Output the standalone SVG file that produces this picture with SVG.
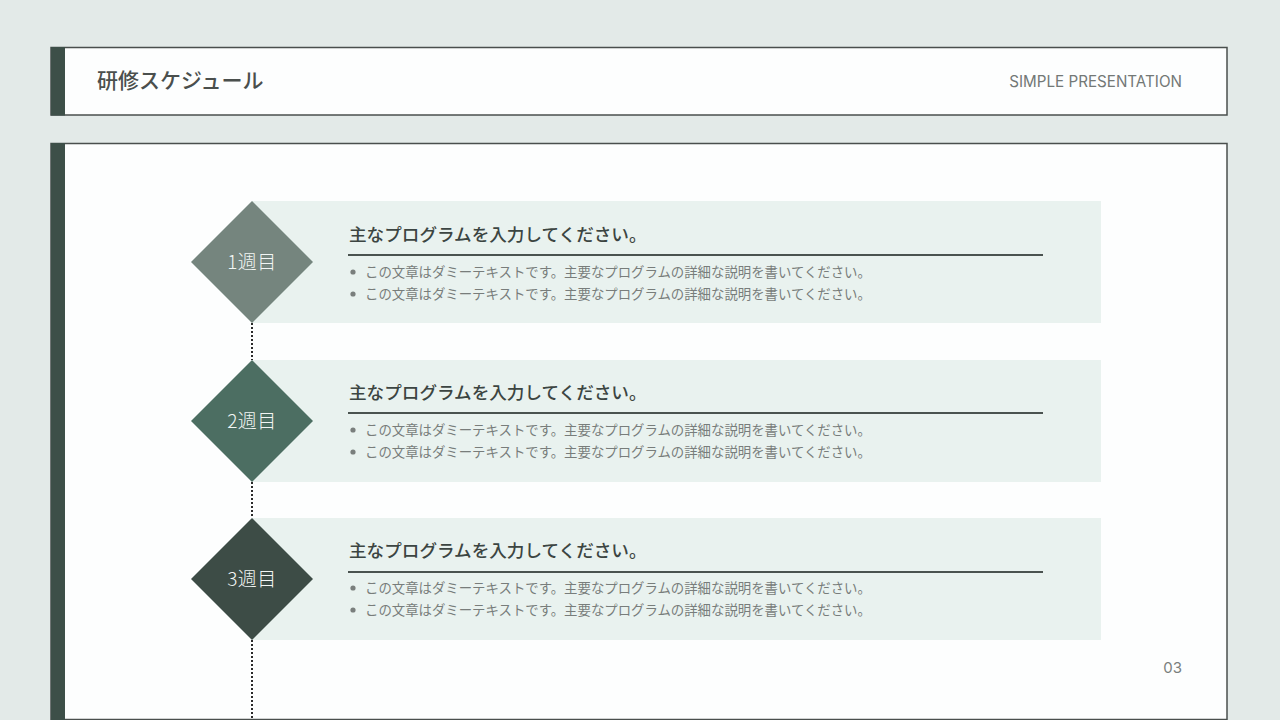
<svg xmlns="http://www.w3.org/2000/svg" width="1280" height="720" viewBox="0 0 1280 720">
<style>
.jp{font-family:"Noto Sans CJK JP","Noto Sans",sans-serif}
.lat{font-family:Inter,"Noto Sans",sans-serif}
.band{fill:#e9f2ef}
.head{font-size:17.6px;font-weight:500;fill:#3c4542}
.rule{stroke:#4a5350;stroke-width:2}
.dot{fill:#7a7f7d}
.body{font-size:13.4px;fill:#787d7b}
.lbl{font-size:19px;font-weight:300;fill:#f2f6f4;text-anchor:middle;letter-spacing:0.5px}
.conn{stroke:#2a2a2a;stroke-width:2;stroke-dasharray:2 2;fill:none}
</style>
<rect width="1280" height="720" fill="#e3eae8"/>
<g id="header">
<rect x="51" y="47.5" width="1176" height="67.5" fill="#fdfefe" stroke="#4a4f4d" stroke-width="1.5"/>
<rect x="51" y="47" width="14" height="68.5" fill="#3d4f48"/>
<text x="97" y="88" class="jp" font-size="21" font-weight="500" fill="#4a4f4d">研修スケジュール</text>
<text x="1182" y="86.5" class="lat" font-size="15.2" fill="#737876" text-anchor="end">SIMPLE PRESENTATION</text>
</g>
<g id="panel">
<rect x="51" y="143.5" width="1176" height="576" fill="#fdfefe" stroke="#4a4f4d" stroke-width="1.5"/>
<rect x="51" y="143" width="14" height="577" fill="#3d4f48"/>
<text x="1182" y="673" class="lat" font-size="15" fill="#7a7f7d" text-anchor="end">03</text>
</g>
<g id="connectors">
<line class="conn" x1="252" y1="323" x2="252" y2="360"/>
<line class="conn" x1="252" y1="482" x2="252" y2="518"/>
<line class="conn" x1="252" y1="640" x2="252" y2="720"/>
</g>
<g id="week1">
<rect class="band" x="252" y="201" width="849" height="122"/>
<polygon points="252,201 313,262 252,323 191,262" fill="#75857e"/>
<text class="jp lbl" x="252" y="269">1週目</text>
<text class="jp head" x="349" y="241">主なプログラムを入力してください。</text>
<line class="rule" x1="348" y1="255" x2="1043" y2="255"/>
<circle class="dot" cx="353" cy="272" r="2.6"/>
<text class="jp body" x="365" y="277">この文章はダミーテキストです。主要なプログラムの詳細な説明を書いてください。</text>
<circle class="dot" cx="353" cy="294" r="2.6"/>
<text class="jp body" x="365" y="299">この文章はダミーテキストです。主要なプログラムの詳細な説明を書いてください。</text>
</g>
<g id="week2">
<rect class="band" x="252" y="360" width="849" height="122"/>
<polygon points="252,360 313,421 252,482 191,421" fill="#4c6e62"/>
<text class="jp lbl" x="252" y="428">2週目</text>
<text class="jp head" x="349" y="399">主なプログラムを入力してください。</text>
<line class="rule" x1="348" y1="413" x2="1043" y2="413"/>
<circle class="dot" cx="353" cy="430" r="2.6"/>
<text class="jp body" x="365" y="435">この文章はダミーテキストです。主要なプログラムの詳細な説明を書いてください。</text>
<circle class="dot" cx="353" cy="452" r="2.6"/>
<text class="jp body" x="365" y="457">この文章はダミーテキストです。主要なプログラムの詳細な説明を書いてください。</text>
</g>
<g id="week3">
<rect class="band" x="252" y="518" width="849" height="122"/>
<polygon points="252,518 313,579 252,640 191,579" fill="#3d4c46"/>
<text class="jp lbl" x="252" y="586">3週目</text>
<text class="jp head" x="349" y="557">主なプログラムを入力してください。</text>
<line class="rule" x1="348" y1="572" x2="1043" y2="572"/>
<circle class="dot" cx="353" cy="588" r="2.6"/>
<text class="jp body" x="365" y="593">この文章はダミーテキストです。主要なプログラムの詳細な説明を書いてください。</text>
<circle class="dot" cx="353" cy="610" r="2.6"/>
<text class="jp body" x="365" y="615">この文章はダミーテキストです。主要なプログラムの詳細な説明を書いてください。</text>
</g>
</svg>
